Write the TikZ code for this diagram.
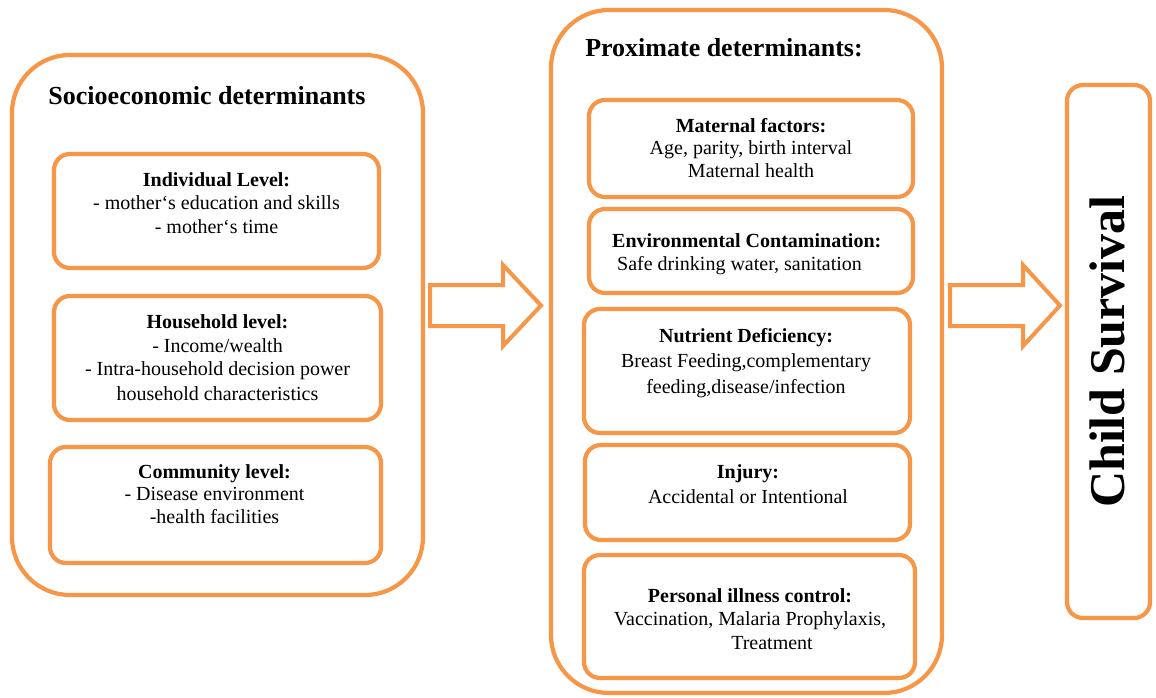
\documentclass[tikz,border=0pt]{standalone}
\usepackage{fontspec}
\setmainfont{Liberation Serif}
\definecolor{accent}{HTML}{F79646}
\begin{document}
\begin{tikzpicture}[x=1pt,y=-1pt,
  panel/.style={draw=accent, line width=4.2pt, rounded corners=58pt, inner sep=0pt},
  card/.style={draw=accent, line width=4.2pt, rounded corners=16pt, inner sep=0pt},
  heading/.style={font=\fontsize{26}{30}\selectfont\bfseries, inner sep=0pt, anchor=base},
  body/.style={font=\fontsize{20}{23.5}\selectfont, align=center, inner sep=0pt, anchor=north},
  blockarrow/.style={draw=accent, line width=4pt, line join=miter}
]
\useasboundingbox (0,0) rectangle (1156,698);

% outer panels
\node[panel, minimum width=411pt, minimum height=540pt] (socio) at (217.5,325) {};
\node[panel, minimum width=391pt, minimum height=683pt] (prox) at (746.5,351.5) {};
\node[card, minimum width=83pt, minimum height=533pt] (child) at (1108.5,351.5) {};

\node[heading] (sociotitle) at (207,105) {Socioeconomic determinants};
\node[heading] (proxtitle) at (724,57) {Proximate determinants:};
\node[font=\fontsize{50}{56}\selectfont\bfseries, inner sep=0pt, anchor=base, rotate=90]
  (childtxt) at (1124,351.5) {Child Survival};

% socioeconomic levels
\node[card, minimum width=325pt, minimum height=114pt] (indiv) at (216.5,211) {};
\node[body] (indivtxt) at (216.5,172) {\textbf{Individual Level:}\\- mother‘s education and skills\\- mother‘s time};

\node[card, minimum width=327pt, minimum height=124pt] (house) at (217.5,358) {};
\node[body] (housetxt) at (217.5,314.6) {\textbf{Household level:}\\- Income/wealth\\- Intra-household decision power\\[1.5pt]household characteristics};

\node[card, minimum width=331pt, minimum height=116pt] (comm) at (215.5,505) {};
\node[body] (commtxt) at (214.5,464.3) {\textbf{Community level:}\\[-1pt]- Disease environment\\[-1pt]-health facilities};

% proximate determinants
\node[card, minimum width=324pt, minimum height=97pt] (mat) at (751,148.5) {};
\node[body] (mattxt) at (751,118) {\textbf{Maternal factors:}\\[-1pt]Age, parity, birth interval\\[-1pt]Maternal health};

\node[card, minimum width=324pt, minimum height=84pt] (env) at (751,251) {};
\node[body, align=left, anchor=north west] (envtxt) at (612,233) {\textbf{Environmental Contamination:}\\\hspace*{5pt}Safe drinking water, sanitation};

\node[card, minimum width=326pt, minimum height=124pt] (nut) at (747,371) {};
\node[body] (nuttxt) at (746,328) {\textbf{Nutrient Deficiency:}\\[1.5pt]Breast Feeding,complementary\\[3pt]feeding,disease/infection};

\node[card, minimum width=325pt, minimum height=95pt] (inj) at (747.5,492.5) {};
\node[body] (injtxt) at (748,464.8) {\textbf{Injury:}\\[1.5pt]Accidental or Intentional};

\node[card, minimum width=331pt, minimum height=123pt] (pers) at (749.5,616.5) {};
\node[body] (perstxt) at (750,588) {\textbf{Personal illness control:}\\Vaccination, Malaria Prophylaxis,\\\hspace*{44pt}Treatment};

% block arrows between the stages
\draw[blockarrow] (430,285) -- (503,285) -- (503,265) -- (541,305.5)
  -- (503,346) -- (503,326) -- (430,326) -- cycle;
\draw[blockarrow] (950,285) -- (1023,285) -- (1023,265) -- (1060,305.5)
  -- (1023,346) -- (1023,326) -- (950,326) -- cycle;
\end{tikzpicture}
\end{document}
